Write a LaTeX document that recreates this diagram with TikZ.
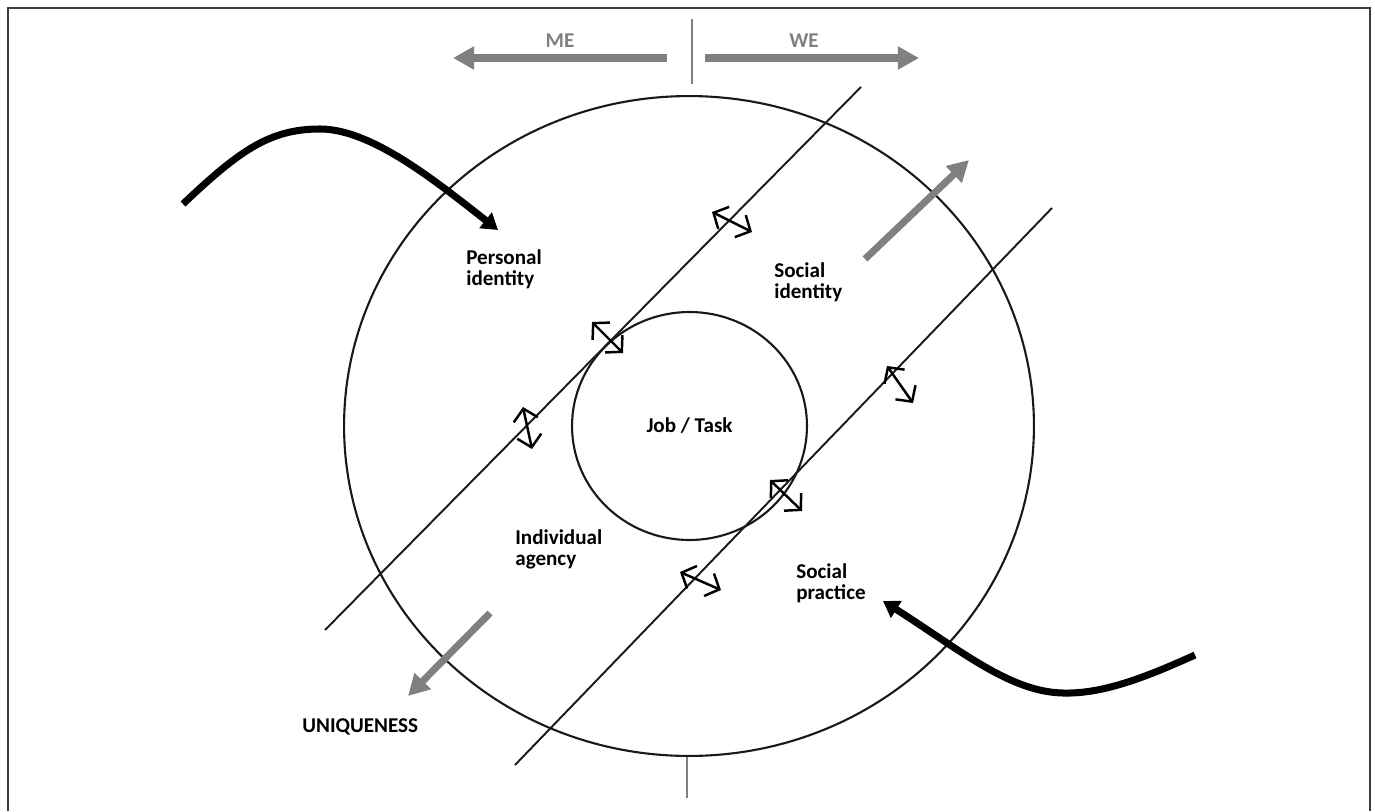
\documentclass[tikz,border=0pt]{standalone}
\usepackage{fontspec}
\setmainfont{Carlito}
\usetikzlibrary{shapes.geometric, arrows.meta, positioning, calc}
\definecolor{mygray}{RGB}{128,128,128}
\definecolor{myframe}{RGB}{60,60,60}

\begin{document}
\begin{tikzpicture}[
    x=0.02cm, y=-0.02cm,
    lbl/.style={font=\fontsize{12}{12}\selectfont\bfseries, align=left, anchor=north west, inner sep=0pt},
    ring/.style={ellipse, draw=black!90, line width=1.2pt, inner sep=0pt},
    divider/.style={draw=black!90, line width=1.1pt},
    sepline/.style={draw=mygray, line width=0.7pt},
    dirarrow/.style={draw=mygray, line width=4.5pt, -{Triangle[length=12pt,width=12.5pt]}},
    flow/.style={draw=black, line width=4pt, -{Triangle[length=9pt,width=11pt]}},
    swap/.style={line width=1.4pt, {Straight Barb[length=6.5pt,width=14pt]}-{Straight Barb[length=6.5pt,width=14pt]}}
]
\useasboundingbox (0,0) rectangle (1375,811);

% Frame
\draw[myframe, line width=1.1pt] (8,811) -- (8,8) -- (1370,8) -- (1370,811);

% Circles
\node[ring, minimum width=13.8cm, minimum height=13.2cm] (outer) at (689,426) {};
\node[ring, minimum width=4.7cm, minimum height=4.56cm, font=\fontsize{12}{12}\selectfont\bfseries] (core) at (689.5,426) {Job / Task};

% Dividing lines
\coordinate (d1a) at (325,630);
\coordinate (d1b) at (861,87);
\coordinate (d2a) at (515,765);
\coordinate (d2b) at (1052,208);
\draw[divider] (d1a) -- (d1b);
\draw[divider] (d2a) -- (d2b);

% Me / We
\coordinate (topS) at (692,19);
\coordinate (topE) at (692,84);
\coordinate (botS) at (687,757);
\coordinate (botE) at (687,798);
\draw[sepline] (topS) -- (topE);
\draw[sepline] (botS) -- (botE);

\coordinate (meS) at (667,58);
\coordinate (meE) at (453,58);
\coordinate (weS) at (705,58);
\coordinate (weE) at (919,58);
\draw[dirarrow] (meS) -- (meE);
\draw[dirarrow] (weS) -- (weE);
\node[font=\fontsize{12}{12}\selectfont\bfseries, text=mygray] (me) at (560,41) {ME};
\node[font=\fontsize{12}{12}\selectfont\bfseries, text=mygray] (we) at (804,41) {WE};

% Labels
\node[lbl] (pid) at (466,249) {Personal\\identity};
\node[lbl] (sid) at (774,262) {Social\\identity};
\node[lbl] (agency) at (515,529) {Individual\\agency};
\node[lbl] (practice) at (796,563) {Social\\practice};
\node[lbl] (unique) at (302,718) {UNIQUENESS};

% Incoming flows
\coordinate (inA) at (183,204);
\coordinate (tipA) at (498,230);
\draw[flow] (inA) .. controls (240,150) and (270,129) .. (320,129)
    .. controls (370,129) and (432,178) .. (tipA);
\coordinate (inB) at (1195,655);
\coordinate (tipB) at (883,601);
\draw[flow] (inB) .. controls (1140,680) and (1100,694) .. (1063,693)
    .. controls (1010,692) and (960,650) .. (tipB);

% Outgoing arrows
\coordinate (outS) at (865,259);
\coordinate (outE) at (969,160);
\coordinate (uniS) at (490,613);
\coordinate (uniE) at (408,696);
\draw[dirarrow, line width=4pt] (outS) -- (outE);
\draw[dirarrow, line width=4pt] (uniS) -- (uniE);

% Exchange arrows
\draw[swap] (712,212) -- (752,232);
\draw[swap] (592,322) -- (623,353);
\draw[swap] (523,407) -- (532,449);
\draw[swap] (887,366) -- (913,403);
\draw[swap] (770,480) -- (802,511);
\draw[swap] (680,572) -- (721,590);

\end{tikzpicture}
\end{document}
